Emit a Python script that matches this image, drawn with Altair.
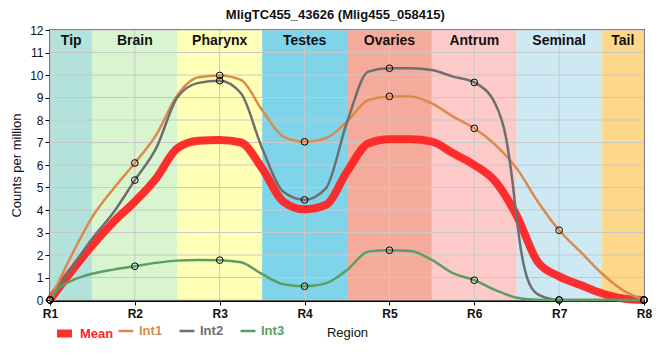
import altair as alt
import pandas as pd

title_text = "MligTC455_43626 (Mlig455_058415)"

regions = ["Tip", "Brain", "Pharynx", "Testes", "Ovaries", "Antrum", "Seminal", "Tail"]
region_start = [1, 1.5, 2.5, 3.5, 4.5, 5.5, 6.5, 7.5]
region_end = [1.5, 2.5, 3.5, 4.5, 5.5, 6.5, 7.5, 8]
region_colors = ["#b3e2dd", "#d9f5d0", "#ffffb5", "#80d4ea", "#f5ab9c", "#fdcaca", "#cdeaf4", "#fdd88a"]

x_ticks = [1, 2, 3, 4, 5, 6, 7, 8]
x_labels = ["R1", "R2", "R3", "R4", "R5", "R6", "R7", "R8"]
y_ticks = [0, 1, 2, 3, 4, 5, 6, 7, 8, 9, 10, 11, 12]

mean_name = "Mean"
mean_color = "#ff2424"
int_names = ["Int1", "Int2", "Int3"]
int_colors = ["#d98b4c", "#6e6e6e", "#5a9f61"]

curve_x = [1, 1.25, 1.5, 1.75, 2, 2.25, 2.5, 2.75, 3, 3.25, 3.5, 3.75, 4, 4.25,
           4.5, 4.75, 5, 5.25, 5.5, 5.75, 6, 6.25, 6.5, 6.75, 7, 7.25, 7.5, 7.75, 8]
mean_y = [0, 1.26, 2.44, 3.48, 4.37, 5.4, 6.74, 7.08, 7.11, 7.0, 5.85, 4.37, 4.03, 4.22,
          5.7, 6.96, 7.14, 7.14, 7.04, 6.52, 6.0, 5.26, 3.75, 1.68, 1.05, 0.67, 0.3, 0.07, 0]
int1_y = [0, 1.95, 3.7, 4.96, 6.09, 7.33, 9.1, 9.9, 9.98, 9.78, 8.44, 7.26, 7.03, 7.19,
          7.93, 8.89, 9.05, 9.05, 8.74, 8.15, 7.63, 6.89, 5.85, 4.37, 3.1, 2.15, 1.19, 0.44, 0]
int3_x = [1, 1.1, 1.25, 1.5, 1.75, 2, 2.25, 2.5, 2.75, 3, 3.25, 3.5, 3.75, 4, 4.25,
          4.5, 4.75, 5, 5.25, 5.5, 5.75, 6, 6.25, 6.5, 6.75, 7, 7.5, 8]
int3_y = [0, 0.52, 0.85, 1.17, 1.35, 1.5, 1.65, 1.75, 1.78, 1.77, 1.68, 1.15, 0.7, 0.61, 0.74,
          1.33, 2.15, 2.21, 2.18, 1.78, 1.19, 0.88, 0.44, 0.1, 0.01, 0, 0, 0]
int2_x = [1, 1.25, 1.5, 1.75, 2, 2.25, 2.5, 2.75, 3, 3.25, 3.5, 3.75, 4, 4.25,
          4.5, 4.75, 5, 5.25, 5.5, 5.75, 6, 6.25, 6.375, 6.45, 6.5, 6.56, 6.625, 6.75, 7, 7.5, 8]
int2_y = [0, 1.4, 2.74, 3.9, 5.33, 6.74, 9.0, 9.65, 9.75, 9.19, 6.74, 4.81, 4.45, 4.96,
          7.9, 10.15, 10.3, 10.3, 10.22, 9.93, 9.67, 8.7, 7.19, 5.26, 3.6, 2.0, 0.96, 0.25, 0, 0, 0]

marker_int1 = [0, 6.09, 9.98, 7.03, 9.05, 7.63, 3.1, 0]
marker_int2 = [0, 5.33, 9.75, 4.45, 10.3, 9.67, 0, 0]
marker_int3 = [0, 1.5, 1.77, 0.61, 2.21, 0.88, 0, 0]

FONT = "Liberation Sans"

# ---- tables ----
bg = pd.DataFrame({"region": regions, "start": region_start, "end": region_end,
                   "fill": region_colors})
bg["center"] = (bg["start"] + bg["end"]) / 2

mean_df = pd.DataFrame({"series": mean_name, "x": curve_x, "y": mean_y})
rows = []
for x, y in zip(curve_x, int1_y):
    rows.append({"series": "Int1", "x": x, "y": y})
for x, y in zip(int2_x, int2_y):
    rows.append({"series": "Int2", "x": x, "y": y})
for x, y in zip(int3_x, int3_y):
    rows.append({"series": "Int3", "x": x, "y": y})
int_df = pd.DataFrame(rows)

mrows = []
for name, vals in zip(int_names, [marker_int1, marker_int2, marker_int3]):
    for x, y in zip(x_ticks, vals):
        mrows.append({"series": name, "x": x, "y": y})
markers = pd.DataFrame(mrows)

hgrid = pd.DataFrame({"v": y_ticks})
vgrid = pd.DataFrame({"v": x_ticks})

# ---- shared scales / axes ----
xscale = alt.Scale(domain=[1, 8], nice=False, zero=False)
yscale = alt.Scale(domain=[0, 12], nice=False, zero=True)

label_map = "{" + ",".join(f"'{t}':'{l}'" for t, l in zip(x_ticks, x_labels)) + "}"
xaxis = alt.Axis(values=x_ticks, labelExpr=f"{label_map}[datum.value]", title="Region",
                 grid=False, labelFlush=False, labelOverlap=False)
yaxis = alt.Axis(values=y_ticks, title="Counts per million", grid=False,
                 labelFlush=False, labelOverlap=False)


def X(field):
    return alt.X(field, type="quantitative", scale=xscale, axis=xaxis)


def Y(field):
    return alt.Y(field, type="quantitative", scale=yscale, axis=yaxis)


int_color_expr = "{" + ",".join(f"'{n}':'{c}'" for n, c in zip(int_names, int_colors)) + "}[datum.value]"

mean_legend = alt.Legend(
    orient="none", legendX=3, legendY=292, direction="horizontal", title=None,
    symbolType="stroke", symbolSize=225, symbolStrokeWidth=8,
    labelColor=mean_color, labelFontSize=13, labelFontWeight="bold", labelFont=FONT,
    labelOffset=4,
)
int_legend = alt.Legend(
    orient="none", legendX=67, legendY=292, direction="horizontal", title=None,
    symbolType="stroke", symbolSize=225, symbolStrokeWidth=2.5,
    labelColor={"expr": int_color_expr},
    labelFontSize=13, labelFontWeight="bold", labelFont=FONT, columnPadding=11,
    labelOffset=4,
)

back = alt.Chart(bg).mark_rect().encode(
    x=X("start"), x2="end",
    y=alt.Y(datum=12, type="quantitative", scale=yscale, axis=yaxis), y2=alt.datum(0),
    fill=alt.Fill("fill:N", scale=None),
)

hrules = alt.Chart(hgrid).mark_rule(color="#c8c8c8", strokeWidth=1).encode(y=Y("v"))
vrules = alt.Chart(vgrid).mark_rule(color="#c8c8c8", strokeWidth=1).encode(x=X("v"))

labels = alt.Chart(bg).mark_text(fontWeight="bold", fontSize=14, font=FONT,
                                 baseline="middle", color="#111").encode(
    x=X("center"), y=alt.value(11), text="region:N")

mean_line = alt.Chart(mean_df).mark_line(
    interpolate="monotone", strokeWidth=8, opacity=0.95).encode(
    x=X("x"), y=Y("y"),
    stroke=alt.Stroke("series:N", scale=alt.Scale(domain=[mean_name], range=[mean_color]),
                      legend=mean_legend))

int_lines = alt.Chart(int_df).mark_line(
    interpolate="monotone", strokeWidth=2.5).encode(
    x=X("x"), y=Y("y"),
    color=alt.Color("series:N", scale=alt.Scale(domain=int_names, range=int_colors),
                    legend=int_legend, sort=int_names))

points = alt.Chart(markers).mark_point(shape="circle", filled=False, stroke="black",
                                       strokeWidth=1, size=45, opacity=1).encode(
    x=X("x"), y=Y("y"))

chart = alt.layer(back, hrules, vrules, labels, mean_line, int_lines, points).resolve_legend(
    stroke="independent", color="independent"
).properties(
    width=594, height=270,
    title=alt.TitleParams(title_text, fontSize=13, fontWeight="bold", font=FONT,
                          anchor="middle", frame="bounds", offset=2, color="#111"),
    autosize="none",
    padding={"left": 42, "top": 22, "right": 8, "bottom": 42},
).configure_view(stroke="black", strokeWidth=1.5).configure_axis(
    labelFont=FONT, titleFont=FONT, labelColor="#111", titleColor="#111",
    domainColor="black", tickColor="black", tickSize=5,
).configure_axisX(
    labelFontSize=12, labelFontWeight="bold", domainWidth=3, titleFontSize=13,
    titleFontWeight="normal", labelPadding=3, titlePadding=7,
).configure_axisY(
    labelFontSize=12, domainWidth=2, titleFontSize=13, titleFontWeight="normal",
    titlePadding=6,
)

chart.save("out.html", embed_options={"renderer": "svg", "actions": False})
